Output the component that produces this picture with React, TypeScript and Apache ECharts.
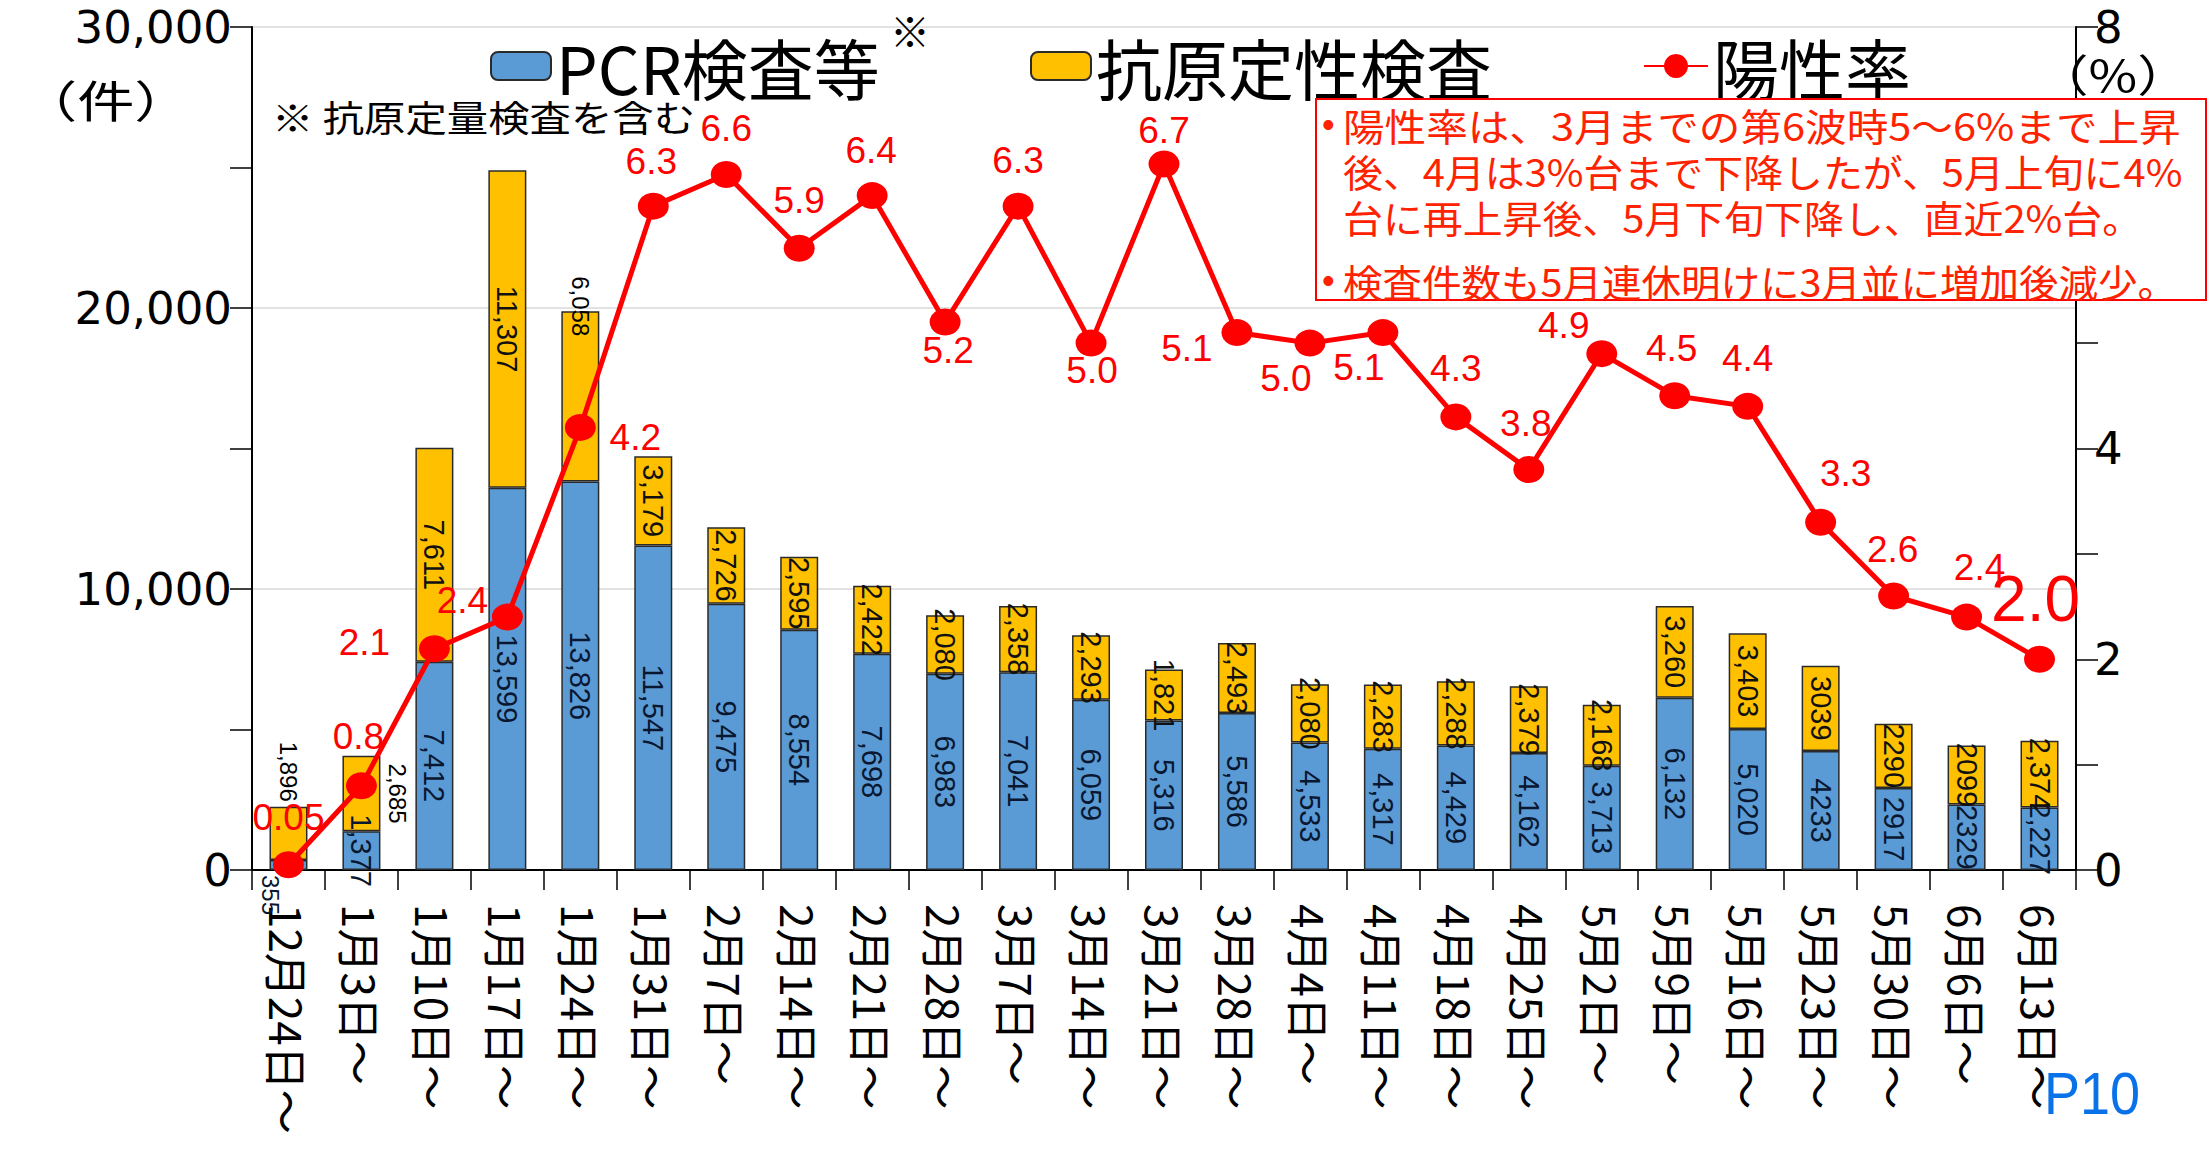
import React, { useEffect, useRef } from 'react';
import * as echarts from 'echarts';

// ---------- data ----------
const categories = [
  '12月24日～', '1月3日～', '1月10日～', '1月17日～', '1月24日～', '1月31日～',
  '2月7日～', '2月14日～', '2月21日～', '2月28日～', '3月7日～', '3月14日～',
  '3月21日～', '3月28日～', '4月4日～', '4月11日～', '4月18日～', '4月25日～',
  '5月2日～', '5月9日～', '5月16日～', '5月23日～', '5月30日～', '6月6日～', '6月13日～',
];
const pcrValues = [
  355, 1377, 7412, 13599, 13826, 11547, 9475, 8554, 7698, 6983, 7041, 6059,
  5316, 5586, 4533, 4317, 4429, 4162, 3713, 6132, 5020, 4233, 2917, 2329, 2227,
];
const antigenValues = [
  1896, 2685, 7611, 11307, 6058, 3179, 2726, 2595, 2422, 2080, 2358, 2293,
  1821, 2493, 2080, 2283, 2288, 2379, 2168, 3260, 3403, 3039, 2290, 2099, 2374,
];
const positivityRate = [
  0.05, 0.8, 2.1, 2.4, 4.2, 6.3, 6.6, 5.9, 6.4, 5.2, 6.3, 5.0, 6.7,
  5.1, 5.0, 5.1, 4.3, 3.8, 4.9, 4.5, 4.4, 3.3, 2.6, 2.4, 2.0,
];
// labels written without thousands separator in the source
const plainFormatIdx = [21, 22, 23];
const leftAxisTicks = [0, 10000, 20000, 30000];
const rightAxisTicks = [0, 2, 4, 6, 8];
// the "6" tick label sits under the note box in the source
const rightHiddenLabels = [6];
const seriesNames = ['PCR検査等', '抗原定性検査', '陽性率'];
const noteLines = [
  '陽性率は、3月までの第6波時5～6%まで上昇',
  '後、4月は3%台まで下降したが、5月上旬に4%',
  '台に再上昇後、5月下旬下降し、直近2%台。',
  '検査件数も5月連休明けに3月並に増加後減少。',
];

// ---------- styling (label placement of the rate labels, in px from the marker) ----------
const rateLabelOffsets: number[][] = [
  [0, -47], [-3, -49], [-70, -6], [-45, -17], [55, 10], [-2, -45], [0, -46], [0, -48],
  [-1, -45], [3, 28], [0, -46], [1, 27], [0, -33], [-50, 16], [-24, 35], [-24, 35],
  [0, -48], [-3, -46], [-38, -28], [-3, -47], [0, -48], [25, -49], [-1, -47], [13, -50], [-4, -60],
];

const BLUE = '#5b9bd5';
const YELLOW = '#ffc000';
const RED = '#ff0000';
const NOTE_RED = '#ff2200';
const JP = '"Noto Sans CJK JP", sans-serif';
const NUM = '"DejaVu Sans", sans-serif';
const ARIAL = '"Liberation Sans", Arial, sans-serif';

const fmtCount = (v: number, i: number) =>
  plainFormatIdx.includes(i) ? String(v) : v.toLocaleString('en-US');

export default function App() {
  const ref = useRef<HTMLDivElement>(null);

  useEffect(() => {
    if (!ref.current) return;
    const chart = echarts.init(ref.current, null, { renderer: 'svg' });

    const barLabelBase = {
      show: true,
      position: 'inside',
      rotate: -90,
      align: 'center',
      verticalAlign: 'middle',
      fontSize: 29,
      fontFamily: ARIAL,
      color: '#0a1730',
    };

    const pcrData = pcrValues.map((v, i) => {
      const item: any = { value: v };
      if (i === 0) {
        item.label = { position: 'bottom', align: 'left', verticalAlign: 'middle', fontSize: 24, offset: [0, 18] };
      }
      return item;
    });
    const antigenData = antigenValues.map((v, i) => {
      const item: any = { value: v };
      if (i === 0) item.label = { position: 'top', align: 'right', verticalAlign: 'middle', fontSize: 24, color: '#000' };
      if (i === 1) item.label = { position: 'right', align: 'center', verticalAlign: 'bottom', fontSize: 24, color: '#000' };
      if (i === 4) item.label = { position: 'top', align: 'center', verticalAlign: 'middle', fontSize: 24, color: '#000' };
      return item;
    });
    const rateData = positivityRate.map((v, i) => ({
      value: v,
      label: {
        offset: rateLabelOffsets[i],
        fontSize: i === positivityRate.length - 1 ? 64 : 37,
      },
    }));

    const leftMin = leftAxisTicks[0];
    const leftMax = leftAxisTicks[leftAxisTicks.length - 1];
    const rightMin = rightAxisTicks[0];
    const rightMax = rightAxisTicks[rightAxisTicks.length - 1];

    const legendText = { fontSize: 66, fontFamily: JP, color: '#000' };

    const noteText = (text: string, x: number, y: number, scaleX = 1) => ({
      type: 'text', x, y, z: 101, scaleX,
      style: { text, fill: NOTE_RED, fontSize: 38, fontFamily: JP, align: 'left', verticalAlign: 'middle' },
    });
    const bullet = (y: number) => ({
      type: 'text', x: 1322, y, z: 101,
      style: { text: '•', fill: NOTE_RED, fontSize: 36, fontFamily: ARIAL, align: 'left', verticalAlign: 'middle' },
    });

    const option: any = {
      animation: false,
      backgroundColor: '#ffffff',
      grid: { left: 252, right: 136, top: 27, bottom: 282, containLabel: false },
      legend: [
        { data: [seriesNames[0]], left: 490, top: 33, padding: 0, itemWidth: 60, itemHeight: 28, selectedMode: false, textStyle: legendText },
        { data: [seriesNames[1]], left: 1030, top: 33, padding: 0, itemWidth: 60, itemHeight: 28, selectedMode: false, textStyle: legendText },
        { data: [seriesNames[2]], left: 1643, top: 33, padding: 0, itemWidth: 64, itemHeight: 30, selectedMode: false, textStyle: legendText },
      ],
      xAxis: {
        type: 'category',
        data: categories,
        boundaryGap: true,
        axisLine: { show: true, lineStyle: { color: '#000', width: 2 } },
        axisTick: { show: true, length: 20, lineStyle: { color: '#000', width: 1.5 } },
        axisLabel: { interval: 0, rotate: -90, fontSize: 44, fontFamily: JP, color: '#000', margin: 34 },
        splitLine: { show: false },
      },
      yAxis: [
        {
          type: 'value',
          position: 'left',
          min: leftMin,
          max: leftMax,
          interval: 10000,
          axisLine: { show: true, lineStyle: { color: '#000', width: 2 } },
          axisTick: { show: true, length: 22, lineStyle: { color: '#000', width: 1.5 } },
          minorTick: { show: true, splitNumber: 2, length: 22, lineStyle: { color: '#000', width: 1.5 } },
          splitLine: { show: true, lineStyle: { color: '#d9d9d9', width: 1.5 } },
          axisLabel: {
            fontSize: 45, fontFamily: NUM, color: '#000', margin: 20,
            formatter: (v: number) => v.toLocaleString('en-US'),
          },
        },
        {
          type: 'value',
          position: 'right',
          min: rightMin,
          max: rightMax,
          interval: 2,
          axisLine: { show: true, lineStyle: { color: '#000', width: 2 } },
          axisTick: { show: true, length: 22, lineStyle: { color: '#000', width: 1.5 } },
          minorTick: { show: true, splitNumber: 2, length: 22, lineStyle: { color: '#000', width: 1.5 } },
          splitLine: { show: false },
          axisLabel: {
            fontSize: 45, fontFamily: NUM, color: '#000', margin: 18,
            formatter: (v: number) => (rightHiddenLabels.includes(v) ? '' : String(v)),
          },
        },
      ],
      series: [
        {
          name: seriesNames[0],
          type: 'bar',
          stack: 'tests',
          barWidth: 38,
          data: pcrData,
          itemStyle: { color: BLUE, borderColor: '#2a2a2a', borderWidth: 1.5 },
          label: { ...barLabelBase, formatter: (p: any) => fmtCount(p.value, p.dataIndex) },
          z: 2,
        },
        {
          name: seriesNames[1],
          type: 'bar',
          stack: 'tests',
          barWidth: 38,
          data: antigenData,
          itemStyle: { color: YELLOW, borderColor: '#2a2a2a', borderWidth: 1.5 },
          label: { ...barLabelBase, color: '#111', formatter: (p: any) => fmtCount(p.value, p.dataIndex) },
          z: 2,
        },
        {
          name: seriesNames[2],
          type: 'line',
          yAxisIndex: 1,
          data: rateData,
          symbol: 'circle',
          symbolSize: [31, 27],
          lineStyle: { color: RED, width: 5 },
          itemStyle: { color: RED },
          label: {
            show: true,
            position: 'inside',
            align: 'center',
            verticalAlign: 'middle',
            color: RED,
            fontFamily: ARIAL,
            formatter: (p: any) => (p.value < 0.1 ? String(p.value) : Number(p.value).toFixed(1)),
          },
          z: 5,
        },
      ],
      graphic: {
        elements: [
          { type: 'text', x: 20, y: 99, z: 100, scaleX: 1.3, style: { text: '（件）', fill: '#000', fontSize: 44, fontFamily: JP, align: 'left', verticalAlign: 'middle' } },
          { type: 'text', x: 2190, y: 73, z: 100, scaleX: 1.2, style: { text: '（%）', fill: '#000', fontSize: 44, fontFamily: JP, align: 'right', verticalAlign: 'middle' } },
          { type: 'text', x: 272, y: 116, z: 100, scaleX: 1.15, style: { text: '※ 抗原定量検査を含む', fill: '#000', fontSize: 36, fontFamily: JP, align: 'left', verticalAlign: 'middle' } },
          { type: 'text', x: 890, y: 30, z: 100, style: { text: '※', fill: '#000', fontSize: 40, fontFamily: JP, align: 'left', verticalAlign: 'middle' } },
          { type: 'rect', z: 100, shape: { x: 1316, y: 99, width: 890, height: 201 }, style: { fill: '#fff', stroke: RED, lineWidth: 2 } },
          bullet(124),
          noteText(noteLines[0], 1343, 124, 1.095),
          noteText(noteLines[1], 1343, 170, 1.05),
          noteText(noteLines[2], 1343, 216, 1.05),
          bullet(280),
          noteText(noteLines[3], 1343, 280, 1.04),
          { type: 'text', x: 2092, y: 1093, z: 100, scaleX: 0.9, style: { text: 'P10', fill: '#0a72e8', fontSize: 60, fontFamily: ARIAL, align: 'center', verticalAlign: 'middle' } },
        ],
      },
    };

    chart.setOption(option);
    return () => chart.dispose();
  }, []);

  return (
    <div
      ref={ref}
      style={{ position: 'fixed', left: 0, top: 0, width: 2212, height: 1152, background: '#fff' }}
    />
  );
}
